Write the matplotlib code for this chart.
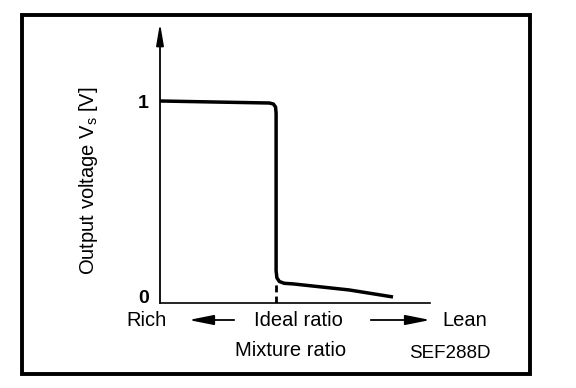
#!/usr/bin/env python

import matplotlib
matplotlib.use("Agg")
import matplotlib.pyplot as plt
from matplotlib.patches import Rectangle, FancyArrowPatch

# output voltage of the O2 sensor against mixture ratio (arbitrary x units)
ratio = [0.0, 0.20, 0.405, 0.42, 0.428, 0.43, 0.43, 0.433, 0.442, 0.46, 0.493, 0.70, 0.863]
voltage = [1.005, 1.0, 0.995, 0.99, 0.975, 0.945, 0.16, 0.125, 0.107, 0.098, 0.095, 0.065, 0.03]
ideal_ratio = 0.43
ideal_top = 0.1
y_ticks = [0.03, 1]
y_tick_labels = ["0", "1"]

W, H = 576, 388


def fx(px):
    return px / W


def fy(py):
    return 1 - py / H


def main():
    plt.rcParams.update({"font.family": ["Liberation Sans", "DejaVu Sans"]})
    fig = plt.figure(figsize=(W / 100, H / 100), dpi=100)

    # axes placed in pixel units of the reference
    left, right, bottom, top = 160, 430, 303, 23
    ax = fig.add_axes([fx(left), fy(bottom), fx(right - left), (bottom - top) / H])
    ax.set_xlim(0, 1)
    ax.set_ylim(0, (bottom - top) / 201)

    ax.plot(ratio, voltage, color="black", lw=2.5, solid_capstyle="butt")
    ax.plot([ideal_ratio, ideal_ratio], [0, ideal_top], color="black", lw=2.0,
            linestyle=(0, (2.5, 1.5)))

    for s in ["top", "right", "left"]:
        ax.spines[s].set_visible(False)
    ax.spines["bottom"].set_linewidth(1.2)
    ax.annotate("", xy=(0, 1.0), xytext=(0, 0), xycoords="axes fraction",
                arrowprops=dict(arrowstyle="-|>,head_length=1.3,head_width=0.22",
                                color="black", lw=1.3, shrinkA=0, shrinkB=0))

    ax.set_xticks([])
    ax.set_yticks(y_ticks)
    ax.set_yticklabels(y_tick_labels, fontsize=14, fontweight="bold")
    ax.tick_params(axis="y", length=0, pad=8)

    fs = 14.5
    fig.text(fx(89), fy(181), "Output voltage V$_{\\mathregular{s}}$ [V]", rotation=90,
             ha="center", va="center", fontsize=fs)
    fig.text(fx(146), fy(320), "Rich", ha="center", va="center", fontsize=fs)
    fig.text(fx(298), fy(320), "Ideal ratio", ha="center", va="center", fontsize=fs)
    fig.text(fx(465), fy(320), "Lean", ha="center", va="center", fontsize=fs)
    fig.text(fx(291), fy(351), "Mixture ratio", ha="center", va="center", fontsize=fs)
    fig.text(fx(450), fy(354), "SEF288D", ha="center", va="center", fontsize=13.5)

    style = "-|>,head_length=1.5,head_width=0.3"
    fig.add_artist(FancyArrowPatch(
        (fx(237), fy(320)), (fx(186), fy(320)), transform=fig.transFigure,
        arrowstyle=style, color="black", lw=1.3, mutation_scale=10))
    fig.add_artist(FancyArrowPatch(
        (fx(368), fy(320)), (fx(433), fy(320)), transform=fig.transFigure,
        arrowstyle=style, color="black", lw=1.3, mutation_scale=10))

    # outer frame
    fig.add_artist(Rectangle((fx(21.5), fy(373.5)), fx(530 - 21.5), (373.5 - 15) / H,
                             transform=fig.transFigure, fill=False, lw=2.8,
                             edgecolor="black"))

    fig.savefig("out.png", dpi=100)


if __name__ == "__main__":
    main()
